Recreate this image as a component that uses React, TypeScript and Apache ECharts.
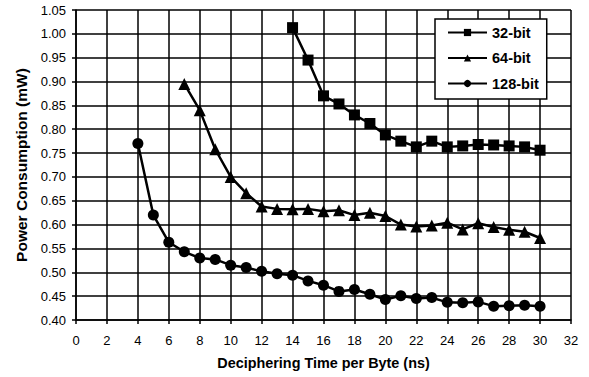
import React, { useEffect, useRef } from "react";
import * as echarts from "echarts";

const xs32 = [14, 15, 16, 17, 18, 19, 20, 21, 22, 23, 24, 25, 26, 27, 28, 29, 30];
const power32 = [1.013, 0.945, 0.87, 0.853, 0.83, 0.812, 0.788, 0.775, 0.763, 0.775, 0.763, 0.765, 0.768, 0.767, 0.765, 0.763, 0.756];

const xs64 = [7, 8, 9, 10, 11, 12, 13, 14, 15, 16, 17, 18, 19, 20, 21, 22, 23, 24, 25, 26, 27, 28, 29, 30];
const power64 = [0.895, 0.84, 0.758, 0.7, 0.666, 0.638, 0.633, 0.632, 0.633, 0.628, 0.63, 0.62, 0.625, 0.618, 0.6, 0.596, 0.598, 0.604, 0.59, 0.603, 0.595, 0.589, 0.585, 0.572];

const xs128 = [4, 5, 6, 7, 8, 9, 10, 11, 12, 13, 14, 15, 16, 17, 18, 19, 20, 21, 22, 23, 24, 25, 26, 27, 28, 29, 30];
const power128 = [0.77, 0.62, 0.563, 0.543, 0.53, 0.527, 0.515, 0.51, 0.502, 0.497, 0.494, 0.482, 0.473, 0.46, 0.464, 0.454, 0.443, 0.451, 0.445, 0.447, 0.437, 0.436, 0.438, 0.429, 0.43, 0.431, 0.429];

const seriesNames = ["32-bit", "64-bit", "128-bit"];
const xAxisTitle = "Deciphering Time per Byte (ns)";
const yAxisTitle = "Power Consumption (mW)";

const FONT = "'Liberation Sans', Arial, sans-serif";

function pairs(xs: number[], ys: number[]) {
  return xs.map((x, i) => [x, ys[i]]);
}

export default function App() {
  const ref = useRef<HTMLDivElement>(null);
  useEffect(() => {
    if (!ref.current) return;
    const chart = echarts.init(ref.current, undefined, { renderer: "svg" });
    const lineStyle = { color: "#000", width: 2.5 };
    chart.setOption({
      animation: false,
      backgroundColor: "#fff",
      textStyle: { fontFamily: FONT, color: "#000" },
      grid: { left: 76, right: 18, top: 10, bottom: 57, containLabel: false },
      legend: {
        left: 435,
        top: 19,
        orient: "vertical",
        backgroundColor: "#fff",
        borderColor: "#000",
        borderWidth: 1.5,
        borderRadius: 0,
        padding: [6, 8, 8, 12],
        itemWidth: 39,
        itemHeight: 9,
        itemGap: 10.5,
        textStyle: { fontFamily: FONT, fontWeight: "bold", fontSize: 14.5, color: "#000" },
        data: seriesNames,
      },
      xAxis: {
        type: "value",
        min: 0,
        max: 32,
        interval: 2,
        name: xAxisTitle,
        nameLocation: "middle",
        nameGap: 36,
        nameTextStyle: { fontFamily: FONT, fontWeight: "bold", fontSize: 14.4, color: "#000" },
        axisLine: { show: true, lineStyle: { color: "#000", width: 1.5 } },
        axisTick: { show: true, length: 4, lineStyle: { color: "#000", width: 1.5 } },
        axisLabel: { fontFamily: FONT, fontSize: 13, color: "#000", margin: 14 },
        splitLine: { show: true, lineStyle: { color: "#000", width: 1.5 } },
      },
      yAxis: {
        type: "value",
        min: 0.4,
        max: 1.05,
        interval: 0.05,
        name: yAxisTitle,
        nameLocation: "middle",
        nameGap: 43,
        nameTextStyle: { fontFamily: FONT, fontWeight: "bold", fontSize: 15.5, color: "#000" },
        axisLine: { show: true, lineStyle: { color: "#000", width: 1.5 } },
        axisTick: { show: true, length: 4, lineStyle: { color: "#000", width: 1.5 } },
        axisLabel: { fontFamily: FONT, fontSize: 13, color: "#000", margin: 10, formatter: (v: number) => v.toFixed(2) },
        splitLine: { show: true, lineStyle: { color: "#000", width: 1.5 } },
      },
      series: [
        {
          name: seriesNames[0],
          type: "line",
          data: pairs(xs32, power32),
          symbol: "rect",
          symbolSize: 11,
          itemStyle: { color: "#000" },
          lineStyle,
        },
        {
          name: seriesNames[1],
          type: "line",
          data: pairs(xs64, power64),
          symbol: "triangle",
          symbolSize: 12,
          itemStyle: { color: "#000" },
          lineStyle,
        },
        {
          name: seriesNames[2],
          type: "line",
          data: pairs(xs128, power128),
          symbol: "circle",
          symbolSize: 11,
          itemStyle: { color: "#000" },
          lineStyle,
        },
      ],
    });
    return () => chart.dispose();
  }, []);
  return (
    <div
      ref={ref}
      style={{ position: "fixed", left: 0, top: 0, width: 589, height: 377, background: "#fff" }}
    />
  );
}
